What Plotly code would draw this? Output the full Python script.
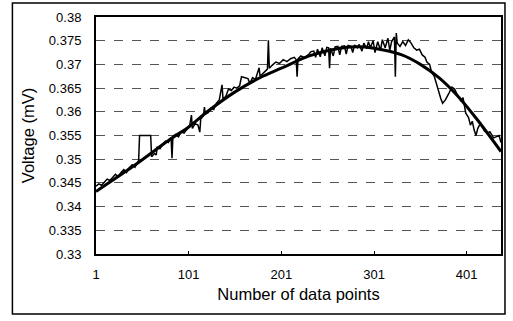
import plotly.graph_objects as go

# Measured (noisy) series: data point index and voltage (mV)
meas_idx = [1, 4, 7, 10, 13, 16, 19, 22, 25, 28, 31, 34, 37, 40, 43, 46, 47, 48, 60, 61,
            64, 66, 67, 70, 73, 76, 79, 82, 83, 84, 87, 90, 93, 96, 99, 102, 104, 105, 108, 111,
            113, 114, 117, 118, 119, 122, 125, 128, 131, 134, 137, 138, 141, 144, 147, 150, 153, 156, 158, 165,
            167, 170, 173, 177, 178, 181, 184, 186, 187, 188, 191, 195, 199, 203, 207, 211, 215, 217, 218, 219,
            222, 226, 230, 233, 236, 238, 240, 243, 245, 248, 250, 252, 253, 254, 257, 259, 262, 264, 266, 269,
            271, 273, 276, 278, 280, 283, 285, 288, 290, 293, 295, 297, 300, 302, 305, 308, 310, 313, 316, 318,
            320, 323, 324, 325, 326, 329, 332, 335, 338, 341, 344, 347, 350, 353, 356, 358, 361, 363, 366, 368,
            371, 373, 375, 378, 382, 385, 388, 391, 395, 397, 400, 403, 405, 407, 409, 411, 413, 416, 418, 420,
            423, 426, 430, 433, 436, 438]
meas_val = [0.3443, 0.3448, 0.3445, 0.3452, 0.3458, 0.3455, 0.3462, 0.3468, 0.3463, 0.3472, 0.3478, 0.3472, 0.3482, 0.3488, 0.3483, 0.3492, 0.3497, 0.355, 0.355, 0.3505,
            0.3512, 0.3509, 0.3525, 0.3522, 0.3532, 0.3538, 0.3535, 0.3545, 0.3502, 0.3548, 0.3552, 0.3547, 0.3558, 0.3555, 0.3563, 0.357, 0.3593, 0.3565, 0.3575, 0.3572,
            0.3557, 0.3585, 0.3592, 0.361, 0.3595, 0.3598, 0.3608, 0.3605, 0.3618, 0.3625, 0.3657, 0.3628, 0.3632, 0.3648, 0.3645, 0.3652, 0.365, 0.3655, 0.3674, 0.367,
            0.366, 0.3672, 0.3668, 0.3693, 0.3675, 0.368, 0.3685, 0.369, 0.3751, 0.3692, 0.3698, 0.3705, 0.3702, 0.371, 0.3706, 0.3712, 0.3715, 0.371, 0.3674, 0.3712,
            0.3718, 0.3714, 0.372, 0.3727, 0.3728, 0.3715, 0.3732, 0.3716, 0.3735, 0.3718, 0.3736, 0.3735, 0.3692, 0.3734, 0.3718, 0.3737, 0.3738, 0.372, 0.3738, 0.3739,
            0.3722, 0.374, 0.3738, 0.3725, 0.3741, 0.3735, 0.3742, 0.3728, 0.3745, 0.3733, 0.3748, 0.3735, 0.375, 0.3725, 0.3748, 0.373, 0.3752, 0.3735, 0.3755, 0.373,
            0.3748, 0.3758, 0.3674, 0.3766, 0.3745, 0.3738, 0.3748, 0.374, 0.3752, 0.3745, 0.3735, 0.373, 0.3732, 0.372, 0.3715, 0.3705, 0.37, 0.3684, 0.3675, 0.366,
            0.3642, 0.3628, 0.3618, 0.3625, 0.364, 0.3652, 0.3648, 0.3635, 0.3622, 0.363, 0.3597, 0.3588, 0.3572, 0.358, 0.3562, 0.355, 0.3565, 0.3576, 0.3568, 0.356,
            0.3555, 0.3558, 0.3545, 0.3548, 0.355, 0.3535]

# Smooth trend curve
trend_idx = [1, 41, 81, 101, 121, 151, 181, 201, 231, 261, 281, 301, 331, 351, 371, 391, 411, 431, 438]
trend_val = [0.3432, 0.3485, 0.3542, 0.3568, 0.3600, 0.3642, 0.3675, 0.3692, 0.3718, 0.3733, 0.3737, 0.3734, 0.3720, 0.3700, 0.3672, 0.3634, 0.3587, 0.3535, 0.3516]

x_ticks = [1, 101, 201, 301, 401]
y_ticks = [0.33, 0.335, 0.34, 0.345, 0.35, 0.355, 0.36, 0.365, 0.37, 0.375, 0.38]
y_labels = ["0.33", "0.335", "0.34", "0.345", "0.35", "0.355", "0.36", "0.365", "0.37", "0.375", "0.38"]

fig = go.Figure()
fig.add_trace(go.Scatter(x=meas_idx, y=meas_val, mode="lines",
                         line=dict(color="black", width=1.5), showlegend=False))
fig.add_trace(go.Scatter(x=trend_idx, y=trend_val, mode="lines",
                         line=dict(color="black", width=3, shape="spline", smoothing=0.8),
                         showlegend=False))

L, R, T, B = 96, 10, 17, 67
W, H = 513, 321
pw, ph = W - L - R, H - T - B

def px_x(p):
    return (p - L) / pw

def px_y(p):
    return (H - B - p) / ph

fig.add_shape(type="rect", xref="paper", yref="paper",
              x0=px_x(12), x1=px_x(507), y0=px_y(314), y1=px_y(3),
              line=dict(color="black", width=1.5), layer="below")

font = "Liberation Sans, Arial, sans-serif"
fig.update_layout(
    width=W, height=H,
    margin=dict(l=L, r=R, t=T, b=B),
    paper_bgcolor="white", plot_bgcolor="white",
    font=dict(family=font, size=13, color="black"),
    xaxis=dict(range=[1, 438], tickvals=x_ticks, ticktext=[str(v) for v in x_ticks],
               showgrid=False, zeroline=False, showline=True, linecolor="black", linewidth=2,
               mirror=True, ticks="inside", ticklen=3, tickcolor="black",
               ticklabelstandoff=7,
               title=dict(text="Number of data points", font=dict(size=16.5), standoff=8)),
    yaxis=dict(range=[0.33, 0.38], tickvals=y_ticks, ticktext=y_labels,
               showgrid=True, gridcolor="#555555", gridwidth=1, griddash="dash",
               zeroline=False, showline=True, linecolor="black", linewidth=2, mirror=True,
               ticks="", ticklabelstandoff=10,
               title=dict(text="Voltage (mV)", font=dict(size=16.5), standoff=10)),
)

fig.write_html("out.html")
